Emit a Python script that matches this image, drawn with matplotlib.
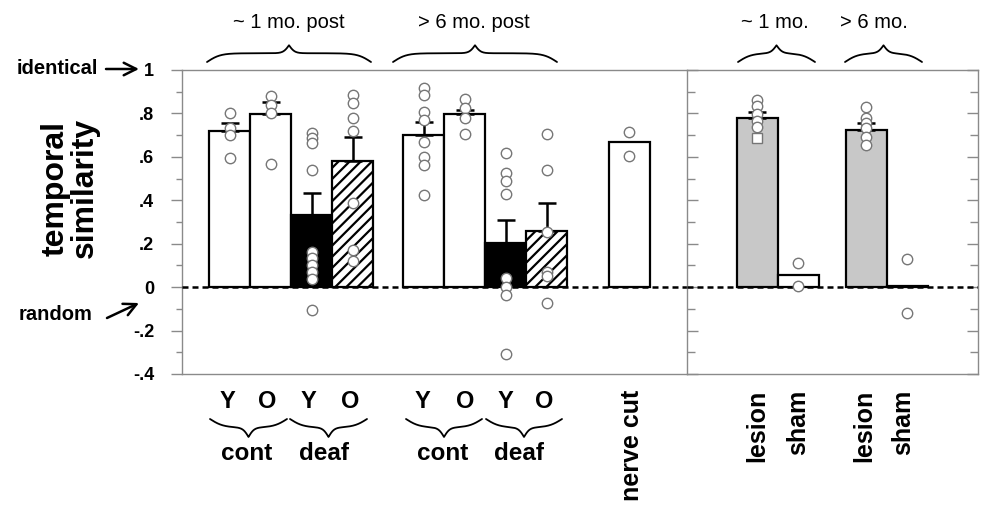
import numpy as np
import matplotlib
matplotlib.use("Agg")
import matplotlib.pyplot as plt

plt.rcParams['font.family'] = ['Liberation Sans', 'DejaVu Sans']

# ---- data ----
left_labels = ["1mo cont Y", "1mo cont O", "1mo deaf Y", "1mo deaf O",
               "6mo cont Y", "6mo cont O", "6mo deaf Y", "6mo deaf O", "nerve cut"]
left_means = [0.718, 0.797, 0.330, 0.582, 0.700, 0.797, 0.204, 0.260, 0.670]
left_err = [0.038, 0.057, 0.105, 0.108, 0.062, 0.018, 0.105, 0.126, 0.0]
left_points = [
    [0.80, 0.735, 0.70, 0.597],
    [0.88, 0.84, 0.80, 0.567],
    [0.71, 0.685, 0.665, 0.54, 0.163, 0.132, 0.10, 0.07, 0.037, -0.103],
    [0.885, 0.85, 0.777, 0.72, 0.386, 0.17, 0.121],
    [0.915, 0.887, 0.808, 0.77, 0.67, 0.60, 0.562, 0.424],
    [0.865, 0.823, 0.777, 0.705],
    [0.616, 0.524, 0.49, 0.431, 0.043, -0.001, -0.037, -0.309],
    [0.705, 0.539, 0.255, 0.07, 0.05, -0.075],
    [0.716, 0.604],
]

right_labels = ["lesion", "sham", "lesion", "sham"]
right_means = [0.777, 0.055, 0.723, 0.006]
right_err = [0.028, 0.0, 0.031, 0.0]
right_points = [
    [0.862, 0.834, 0.797, 0.766, 0.739],
    [0.112, 0.005],
    [0.831, 0.777, 0.754, 0.735, 0.69, 0.654],
    [0.128, -0.121],
]
right_square_points = [[0.685], [], [], []]

ytick_vals = [-0.4, -0.2, 0, 0.2, 0.4, 0.6, 0.8, 1.0]
ytick_text = ["-.4", "-.2", "0", ".2", ".4", ".6", ".8", "1"]

# ---- layout ----
W, H = 984, 509
left_pos = [1.16, 2.16, 3.16, 4.16, 5.90, 6.90, 7.90, 8.90, 10.91]
right_pos = [1.71, 2.71, 4.37, 5.37]
left_fill = ['white', 'white', 'black', 'white', 'white', 'white', 'black', 'white', 'white']
left_hatch = [None, None, None, '///', None, None, None, '///', None]
right_fill = ['#c8c8c8', 'white', '#c8c8c8', 'white']

plt.rcParams['hatch.linewidth'] = 1.6
spine_col = '#8a8a8a'
pt_edge = '#767676'

fig = plt.figure(figsize=(W / 100, H / 100), dpi=100)
axL = fig.add_axes([182 / W, 1 - 374 / H, (687 - 182) / W, 304 / H])
axR = fig.add_axes([687 / W, 1 - 374 / H, (978 - 687) / W, 304 / H])


def draw_panel(ax, pos, means, errs, fills, hatches, points, squares=None):
    for i in range(len(pos)):
        ax.bar(pos[i], means[i], width=1.0, color=fills[i], edgecolor='black',
               linewidth=1.6, hatch=hatches[i], zorder=2)
        if errs[i] > 0:
            ax.errorbar(pos[i], means[i], yerr=[[0], [errs[i]]], fmt='none',
                        ecolor='black', elinewidth=1.8, capsize=6.5,
                        capthick=1.8, zorder=3)
        ax.plot([pos[i]] * len(points[i]), points[i], 'o', mfc='white',
                mec=pt_edge, mew=1.0, ms=7.5, zorder=5, clip_on=False)
        if squares and squares[i]:
            ax.plot([pos[i]] * len(squares[i]), squares[i], 's', mfc='white',
                    mec=pt_edge, mew=1.0, ms=7.5, zorder=5)
    ax.axhline(0, color='black', lw=1.8, ls=(0, (2.4, 1.6)), zorder=4)
    ax.set_ylim(-0.4, 1.0)
    ax.set_yticks(ytick_vals)
    ax.set_yticks(np.arange(-0.3, 1.0, 0.2), minor=True)
    ax.set_xticks([])
    for s in ax.spines.values():
        s.set_color(spine_col)
        s.set_linewidth(1.0)


draw_panel(axL, left_pos, left_means, left_err, left_fill, left_hatch, left_points)
axL.set_xlim(0, 505 / 41)
axL.spines['right'].set_visible(False)
axL.set_yticklabels(ytick_text, fontsize=13, fontweight='bold')
axL.tick_params(axis='y', which='major', direction='out', length=8, width=1,
                color=spine_col, pad=12)
axL.tick_params(axis='y', which='minor', direction='out', length=4, width=1,
                color=spine_col)

draw_panel(axR, right_pos, right_means, right_err, right_fill,
           [None] * 4, right_points, right_square_points)
axR.set_xlim(0, 291 / 41)
axR.tick_params(axis='y', which='both', direction='in', left=True, right=True,
                labelleft=False, color=spine_col, width=1)
axR.tick_params(axis='y', which='major', length=8)
axR.tick_params(axis='y', which='minor', length=6)

# ---- annotations in pixel space ----
ov = fig.add_axes([0, 0, 1, 1])
ov.set_xlim(0, W)
ov.set_ylim(H, 0)
ov.axis('off')


def brace(x0, x1, y, a1, a2, down=False):
    xm = (x0 + x1) / 2
    xs = np.linspace(x0, xm, 200)
    h = a1 / (1 + np.exp(-0.15 * (xs - x0))) + a2 / (1 + np.exp(-0.35 * (xs - xm))) - a1 / 2
    xx = np.concatenate([xs, (2 * xm - xs)[::-1]])
    hh = np.concatenate([h, h[::-1]])
    yy = y + hh if down else y - hh
    ov.plot(xx, yy, color='black', lw=1.3, solid_capstyle='round')


# top braces + period labels
for x0, x1, lab, lx in [(207, 371, '~ 1 mo. post', 289), (393, 557, '> 6 mo. post', 474),
                        (738, 815, '~ 1 mo.', 775), (845, 922, '> 6 mo.', 874)]:
    brace(x0, x1, 62, 17.5, 16)
    ov.text(lx, 22, lab, ha='center', va='center', fontsize=14.5)

# bottom braces
for x0, x1, lab, lx in [(210, 287, 'cont', 247), (290, 367, 'deaf', 324),
                        (406, 482, 'cont', 443), (486, 562, 'deaf', 519)]:
    brace(x0, x1, 419, 17, 19, down=True)
    ov.text(lx, 454, lab, ha='center', va='center', fontsize=17.5, fontweight='bold')

for lx, lab in zip([227, 267, 308, 350, 422, 465, 505, 544], ['Y', 'O'] * 4):
    ov.text(lx, 402, lab, ha='center', va='center', fontsize=17, fontweight='bold')

for lx, lab in [(632, 'nerve cut'), (757, 'lesion'), (798, 'sham'),
                (864, 'lesion'), (903, 'sham')]:
    ov.text(lx, 390, lab, ha='center', va='top', rotation=90, fontsize=18,
            fontweight='bold')

ov.text(70, 188, 'temporal\nsimilarity', rotation=90, ha='center', va='center',
        fontsize=23, fontweight='bold', linespacing=0.95)

arrow = dict(arrowstyle='->,head_length=0.9,head_width=0.45',
             lw=1.8, color='black', shrinkA=0, shrinkB=0)
ov.text(98, 68, 'identical', ha='right', va='center', fontsize=14.5, fontweight='bold')
ov.annotate('', xy=(139, 69), xytext=(106, 69), arrowprops=arrow)
ov.text(93, 314, 'random', ha='right', va='center', fontsize=14.5, fontweight='bold')
ov.annotate('', xy=(139, 303), xytext=(107, 318), arrowprops=arrow)

fig.savefig('out.png', dpi=100)
